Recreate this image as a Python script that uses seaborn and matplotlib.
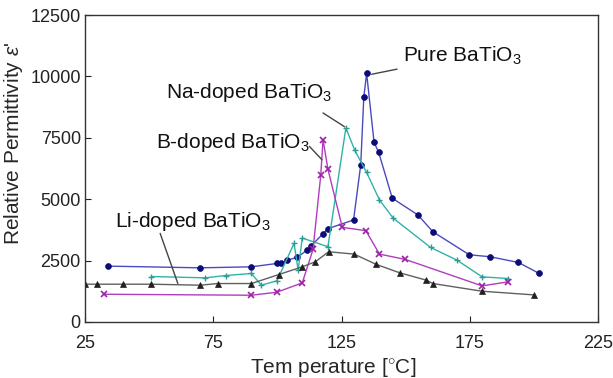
import matplotlib
matplotlib.use("Agg")
import matplotlib.pyplot as plt
import seaborn as sns
import pandas as pd

pure_T = [33.9, 69.9, 89.9, 99.8, 101.6, 103.9, 107.7, 111.6, 113.1, 117.7, 119.7,
          129.7, 132.5, 133.7, 134.8, 137.7, 139.5, 144.8, 154.8, 160.6, 174.8,
          183.0, 194.0, 202.1]
pure_E = [2275, 2206, 2247, 2383, 2383, 2520, 2629, 2928, 3092, 3582, 3800,
          4154, 6401, 9166, 10120, 7314, 6905, 5039, 4358, 3677, 2738,
          2656, 2424, 1975]

na_T = [50.8, 71.9, 79.8, 89.9, 93.7, 99.8, 106.5, 108.1, 109.7, 119.7, 126.7,
        130.2, 134.8, 139.8, 145.2, 159.7, 170.0, 179.8, 189.9]
na_E = [1852, 1798, 1893, 1975, 1498, 1675, 3201, 2111, 3419, 3065, 7900,
        6987, 6088, 4971, 4222, 3037, 2520, 1839, 1771]

b_T = [32.6, 89.9, 99.8, 109.7, 113.9, 116.9, 117.8, 119.7, 125.3, 134.5,
       139.8, 149.9, 179.8, 189.9]
b_E = [1130, 1090, 1212, 1594, 2955, 5966, 7423, 6225, 3854, 3718,
       2765, 2547, 1471, 1634]

li_T = [25.0, 29.6, 39.8, 50.8, 69.9, 76.8, 89.9, 100.6, 109.7, 114.8, 120.0,
        129.9, 138.6, 147.7, 158.1, 160.6, 179.8, 200.1]
li_E = [1539, 1539, 1539, 1539, 1498, 1566, 1566, 1934, 2247, 2452, 2860,
        2765, 2343, 2002, 1703, 1566, 1253, 1103]

x_ticks = [25, 75, 125, 175, 225]
y_ticks = [0, 2500, 5000, 7500, 10000, 12500]

sns.set_theme(style="ticks")
plt.rcParams['font.family'] = ['Liberation Sans', 'DejaVu Sans']
plt.rcParams['mathtext.fontset'] = 'custom'
plt.rcParams['mathtext.rm'] = 'Liberation Sans'
plt.rcParams['mathtext.it'] = 'Liberation Sans:italic'

fig = plt.figure(figsize=(6.13, 3.78), dpi=100)
ax = fig.add_axes([85/613, 1 - 322/378, (598-85)/613, (322-15)/378])

series = [
    (pure_T, pure_E, "#4a4ac0", "#0c0c78", "o", 4.2, 0.5),
    (na_T, na_E, "#2fb3a8", "#2a9d95", "+", 5, 1.0),
    (b_T, b_E, "#b03cc0", "#a020a8", "x", 4, 1.2),
    (li_T, li_E, "#606060", "#202020", "^", 4, 0.5),
]
for T, E, lc, mc, m, ms, mew in series:
    df = pd.DataFrame({"T": T, "E": E})
    sns.lineplot(data=df, x="T", y="E", ax=ax, color=lc, linewidth=1.0,
                 sort=False, estimator=None, marker=m, markersize=ms,
                 markerfacecolor=mc, markeredgecolor=mc, markeredgewidth=mew)

ax.set_xlim(25, 225)
ax.set_ylim(0, 12500)
ax.set_xticks(x_ticks)
ax.set_yticks(y_ticks)
ax.tick_params(direction="in", length=4, width=0.8, labelsize=13, pad=3, colors="#222222")
ax.tick_params(axis="x", pad=9)
for s in ax.spines.values():
    s.set_linewidth(1.0)
    s.set_color("#333333")
ax.set_xlabel("Tem perature [$^{\\circ}$C]", fontsize=15)
ax.set_ylabel("Relative Permittivity $\\varepsilon$'", fontsize=15)
ax.xaxis.set_label_coords(0.483, -0.112)
ax.yaxis.set_label_coords(-0.117, 0.583)

ann = dict(fontsize=15, color="#111111")
arrow = dict(arrowstyle="-", color="#444444", lw=1.0)
ax.annotate("Pure BaTiO$_3$", xy=(135.7, 10065), xytext=(149, 10830),
            arrowprops=arrow, va="center", ha="left", **ann)
ax.annotate("Na-doped BaTiO$_3$", xy=(126.7, 7900), xytext=(56.5, 9330),
            va="center", ha="left", **ann)
ax.plot([117.8, 126.2], [8512, 7950], color="#444444", lw=1.0)
ax.annotate("B-doped BaTiO$_3$", xy=(117.4, 6605), xytext=(52.8, 7290),
            va="center", ha="left", **ann)
ax.plot([112.5, 117.4], [7150, 6605], color="#444444", lw=1.0)
ax.annotate("Li-doped BaTiO$_3$", xy=(61.2, 1566), xytext=(36.8, 4090),
            va="center", ha="left", **ann)
ax.plot([54.3, 61.2], [3609, 1566], color="#444444", lw=1.0)

fig.savefig("out.png", dpi=100)
